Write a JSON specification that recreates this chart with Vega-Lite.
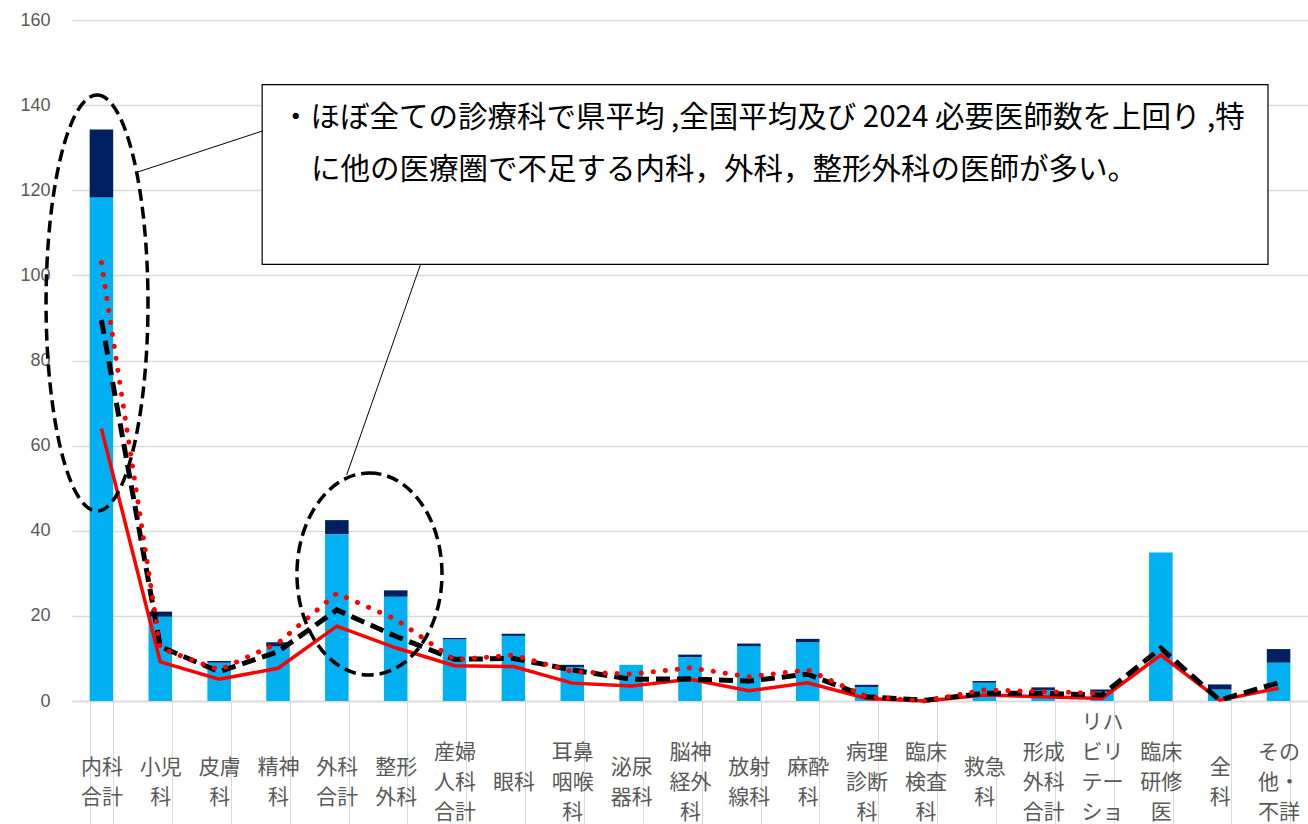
{
  "$schema": "https://vega.github.io/schema/vega-lite/v6.json",
  "width": 1236,
  "height": 681,
  "autosize": {"type": "none"},
  "padding": {"left": 72, "top": 20, "right": 0, "bottom": 123},
  "background": "white",
  "config": {
    "view": {"stroke": null},
    "axisX": {
      "title": null,
      "labelAngle": 0,
      "labelFont": "Noto Sans CJK JP",
      "labelFontSize": 21,
      "labelColor": "#595959",
      "labelLineHeight": 15,
      "labelBaseline": "middle",
      "labelPadding": -104,
      "labelOverlap": false,
      "labelLimit": 0,
      "tickSize": 125,
      "tickColor": "#d9d9d9",
      "tickWidth": 1,
      "tickBand": "extent",
      "domainColor": "#d9d9d9",
      "domainWidth": 1.5,
      "grid": false
    },
    "axisY": {
      "title": null,
      "domain": false,
      "ticks": false,
      "grid": true,
      "gridColor": "#d9d9d9",
      "gridWidth": 1.3,
      "labelFont": "Liberation Sans",
      "labelFontSize": 18,
      "labelColor": "#595959",
      "labelPadding": 22
    }
  },
  "datasets": {
    "depts": [
      {"dept": "内科\n合計", "病院": 118.3, "診療所": 16.0, "2024必要医師数": 64.0, "県平均": 89.5, "全国平均": 103.0},
      {"dept": "小児\n科", "病院": 19.8, "診療所": 1.2, "2024必要医師数": 9.2, "県平均": 12.8, "全国平均": 12.4},
      {"dept": "皮膚\n科", "病院": 9.0, "診療所": 0.4, "2024必要医師数": 5.1, "県平均": 6.9, "全国平均": 7.3},
      {"dept": "精神\n科", "病院": 12.8, "診療所": 1.0, "2024必要医師数": 7.7, "県平均": 11.6, "全国平均": 13.6},
      {"dept": "外科\n合計", "病院": 39.2, "診療所": 3.3, "2024必要医師数": 17.6, "県平均": 21.4, "全国平均": 25.3},
      {"dept": "整形\n外科", "病院": 24.5, "診療所": 1.5, "2024必要医師数": 12.5, "県平均": 15.2, "全国平均": 19.2},
      {"dept": "産婦\n人科\n合計", "病院": 14.5, "診療所": 0.3, "2024必要医師数": 8.3, "県平均": 9.8, "全国平均": 9.7},
      {"dept": "眼科", "病院": 15.3, "診療所": 0.5, "2024必要医師数": 8.1, "県平均": 10.0, "全国平均": 10.8},
      {"dept": "耳鼻\n咽喉\n科", "病院": 8.0, "診療所": 0.5, "2024必要医師数": 4.2, "県平均": 7.3, "全国平均": 6.9},
      {"dept": "泌尿\n器科", "病院": 8.5, "診療所": 0.0, "2024必要医師数": 3.5, "県平均": 5.1, "全国平均": 6.3},
      {"dept": "脳神\n経外\n科", "病院": 10.3, "診療所": 0.6, "2024必要医師数": 5.1, "県平均": 5.2, "全国平均": 7.8},
      {"dept": "放射\n線科", "病院": 12.9, "診療所": 0.6, "2024必要医師数": 2.4, "県平均": 4.7, "全国平均": 5.7},
      {"dept": "麻酔\n科", "病院": 13.8, "診療所": 0.8, "2024必要医師数": 4.3, "県平均": 6.3, "全国平均": 7.3},
      {"dept": "病理\n診断\n科", "病院": 3.3, "診療所": 0.5, "2024必要医師数": 0.6, "県平均": 1.0, "全国平均": 1.0},
      {"dept": "臨床\n検査\n科", "病院": 0.0, "診療所": 0.0, "2024必要医師数": 0.0, "県平均": 0.2, "全国平均": 0.0},
      {"dept": "救急\n科", "病院": 4.3, "診療所": 0.4, "2024必要医師数": 1.4, "県平均": 1.8, "全国平均": 2.6},
      {"dept": "形成\n外科\n合計", "病院": 2.6, "診療所": 0.6, "2024必要医師数": 1.0, "県平均": 1.8, "全国平均": 2.2},
      {"dept": "リハ\nビリ\nテー\nショ\nン科", "病院": 2.2, "診療所": 0.5, "2024必要医師数": 0.6, "県平均": 1.4, "全国平均": 1.8},
      {"dept": "臨床\n研修\n医", "病院": 34.9, "診療所": 0.0, "2024必要医師数": 10.8, "県平均": 12.4, "全国平均": null},
      {"dept": "全\n科", "病院": 2.7, "診療所": 1.2, "2024必要医師数": 0.2, "県平均": 0.2, "全国平均": null},
      {"dept": "その\n他・\n不詳", "病院": 9.0, "診療所": 3.2, "2024必要医師数": 3.0, "県平均": 4.3, "全国平均": null}
    ],
    "box": [{"x": 3.231, "x2": 20.32, "y": 102.6, "y2": 144.8}],
    "leaders": [
      {"x": 3.231, "x2": 1.121, "y": 133.9, "y2": 124.3},
      {"x": 5.922, "x2": 4.667, "y": 102.6, "y2": 53.1}
    ],
    "notes": [
      {"x": 3.55, "y": 137.0, "text": "・ほぼ全ての診療科で県平均 ,全国平均及び 2024 必要医師数を上回り ,特"},
      {"x": 4.06, "y": 124.8, "text": "に他の医療圏で不足する内科，外科，整形外科の医師が多い。"}
    ],
    "ellipse1": [{"x": 0.425, "y": 93.5}],
    "ellipse2": [{"x": 5.054, "y": 29.84}]
  },
  "layer": [
    {
      "data": {"name": "depts"},
      "layer": [
        {
          "transform": [{"fold": ["病院", "診療所"], "as": ["区分", "医師数"]}],
          "mark": {"type": "bar"},
          "encoding": {
            "x": {
              "field": "dept", "type": "nominal",
              "scale": {"paddingInner": 0.6, "paddingOuter": 0.3, "domain": ["内科\n合計", "小児\n科", "皮膚\n科", "精神\n科", "外科\n合計", "整形\n外科", "産婦\n人科\n合計", "眼科", "耳鼻\n咽喉\n科", "泌尿\n器科", "脳神\n経外\n科", "放射\n線科", "麻酔\n科", "病理\n診断\n科", "臨床\n検査\n科", "救急\n科", "形成\n外科\n合計", "リハ\nビリ\nテー\nショ\nン科", "臨床\n研修\n医", "全\n科", "その\n他・\n不詳"]},
              "axis": {"labelExpr": "isString(datum.value) ? split(substring('\u200b\\n\u200b\\n\u200b\\n\u200b\\n', 0, 2 * (5 - length(split(datum.value, '\\n')))) + replace(datum.value, regexp('\\n', 'g'), '\\n\u200b\\n'), '\\n') : ''"}
            },
            "y": {"field": "医師数", "type": "quantitative", "stack": "zero", "scale": {"domain": [0, 160], "nice": false}, "title": null, "axis": {"values": [0, 20, 40, 60, 80, 100, 120, 140, 160]}},
            "color": {"field": "区分", "type": "nominal", "scale": {"domain": ["病院", "診療所"], "range": ["#00B0F0", "#002060"]}, "legend": null},
            "order": {"field": "区分", "sort": "ascending"}
          }
        },
        {
          "mark": {"type": "line", "color": "#FF0000", "strokeWidth": 3.5},
          "encoding": {
            "x": {"field": "dept", "type": "nominal"},
            "y": {"field": "2024必要医師数", "type": "quantitative", "title": null}
          }
        },
        {
          "mark": {"type": "line", "color": "#000000", "strokeWidth": 5, "strokeDash": [14, 7]},
          "encoding": {
            "x": {"field": "dept", "type": "nominal"},
            "y": {"field": "県平均", "type": "quantitative", "title": null}
          }
        },
        {
          "mark": {"type": "line", "color": "#FF0000", "strokeWidth": 5, "strokeDash": [0.1, 12], "strokeCap": "round"},
          "encoding": {
            "x": {"field": "dept", "type": "nominal"},
            "y": {"field": "全国平均", "type": "quantitative", "title": null}
          }
        }
      ]
    },
    {
      "layer": [
        {
          "data": {"name": "box"},
          "mark": {"type": "rect", "fill": "white", "stroke": "black", "strokeWidth": 1.2},
          "encoding": {
            "x": {"field": "x", "type": "quantitative", "scale": {"domain": [0, 21], "nice": false, "zero": false}, "axis": null},
            "x2": {"field": "x2"},
            "y": {"field": "y", "type": "quantitative", "title": null},
            "y2": {"field": "y2"}
          }
        },
        {
          "data": {"name": "leaders"},
          "mark": {"type": "rule", "color": "black", "strokeWidth": 1},
          "encoding": {
            "x": {"field": "x", "type": "quantitative", "scale": {"domain": [0, 21], "nice": false, "zero": false}, "axis": null},
            "x2": {"field": "x2"},
            "y": {"field": "y", "type": "quantitative", "title": null},
            "y2": {"field": "y2"}
          }
        },
        {
          "data": {"name": "notes"},
          "mark": {"type": "text", "align": "left", "baseline": "middle", "font": "Noto Sans CJK JP", "fontSize": 29.5, "color": "black"},
          "encoding": {
            "x": {"field": "x", "type": "quantitative", "scale": {"domain": [0, 21], "nice": false, "zero": false}, "axis": null},
            "y": {"field": "y", "type": "quantitative", "title": null},
            "text": {"field": "text"}
          }
        },
        {
          "data": {"name": "ellipse1"},
          "mark": {"type": "point", "filled": false, "stroke": "black", "strokeWidth": 3.5, "strokeDash": [12, 6], "opacity": 1, "size": 173056,
            "shape": "M0,-1C0.1353,-1 0.245,-0.5523 0.245,0C0.245,0.5523 0.1353,1 0,1C-0.1353,1 -0.245,0.5523 -0.245,0C-0.245,-0.5523 -0.1353,-1 0,-1Z"},
          "encoding": {
            "x": {"field": "x", "type": "quantitative", "scale": {"domain": [0, 21], "nice": false, "zero": false}, "axis": null},
            "y": {"field": "y", "type": "quantitative", "title": null}
          }
        },
        {
          "data": {"name": "ellipse2"},
          "mark": {"type": "point", "filled": false, "stroke": "black", "strokeWidth": 3.5, "strokeDash": [12, 6], "opacity": 1, "size": 40804,
            "shape": "M0,-1C0.3965,-1 0.718,-0.5523 0.718,0C0.718,0.5523 0.3965,1 0,1C-0.3965,1 -0.718,0.5523 -0.718,0C-0.718,-0.5523 -0.3965,-1 0,-1Z"},
          "encoding": {
            "x": {"field": "x", "type": "quantitative", "scale": {"domain": [0, 21], "nice": false, "zero": false}, "axis": null},
            "y": {"field": "y", "type": "quantitative", "title": null}
          }
        }
      ]
    }
  ],
  "resolve": {"scale": {"x": "independent"}, "axis": {"x": "independent"}}
}
